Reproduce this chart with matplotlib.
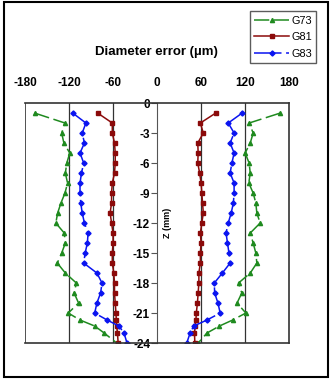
import matplotlib.pyplot as plt
from matplotlib.patches import Rectangle

plt.rcParams['font.family'] = ['Liberation Sans', 'DejaVu Sans']

# depth positions (mm)
z = [-1, -2, -3, -4, -5, -6, -7, -8, -9, -10, -11, -12, -13, -14, -15,
     -16, -17, -18, -19, -20, -21, -21.7, -22.3, -23, -24]

# diameter error (um), negative and positive side of each series
g73_neg = [-167, -125.5, -130, -127, -119, -123, -125, -122, -125.5, -131, -135.5,
           -138, -126.5, -125, -130, -136, -125, -110, -113, -107, -121, -105,
           -85, -72, -55]
g73_pos = [168, 125.5, 131, 127, 120, 125.5, 127, 125, 131, 134.6, 136, 140.5,
           127, 131, 134.6, 136, 127, 111, 115.5, 109, 121, 103, 85, 68, 56]
g81_neg = [-81, -61, -61, -58, -57, -57, -58, -61, -62, -62, -64, -62, -60, -60,
           -61, -61, -59, -58, -58, -57, -56, -55.5, -55, -54, -53]
g81_pos = [80, 59, 63, 55.5, 56, 55.5, 58, 60, 61, 62, 63, 61, 59, 60, 59, 59,
           57, 57, 56, 55, 53.5, 53, 52, 51, 51.5]
g83_neg = [-115, -97, -102, -99, -105, -100, -103, -105, -105, -104, -102, -99,
           -94, -95, -98, -100, -82, -75, -77, -82, -85, -68, -52, -45, -41]
g83_pos = [116, 97, 105, 99.6, 105, 102, 99.6, 105, 105, 104, 101, 97, 94, 96,
           98, 99.6, 89, 78, 78.5, 83, 86, 68, 50, 45, 40.5]

xticks = [-180, -120, -60, 0, 60, 120, 180]
yticks = [0, -3, -6, -9, -12, -15, -18, -21, -24]

green = '#1f8a1f'
red = '#8b0a0a'
blue = '#0a14f0'

fig = plt.figure(figsize=(3.31, 3.85), dpi=100)
ax = fig.add_axes([0.0755, 0.109, 0.798, 0.6234])

ax.plot(g73_neg, z, color=green, marker='^', ms=3, lw=1.1, ls=(0, (10, 3)), label='G73')
ax.plot(g73_pos, z, color=green, marker='^', ms=3, lw=1.1, ls=(0, (10, 3)))
ax.plot(g81_neg, z, color=red, marker='s', ms=3, lw=1.1, label='G81')
ax.plot(g81_pos, z, color=red, marker='s', ms=3, lw=1.1)
ax.plot(g83_neg, z, color=blue, marker='D', ms=2.6, lw=1.1, ls=(0, (18, 3)), label='G83')
ax.plot(g83_pos, z, color=blue, marker='D', ms=2.6, lw=1.1, ls=(0, (18, 3)))

for v in [-120, -60, 60, 120]:
    ax.axvline(v, color='#333333', lw=0.9, zorder=0)
ax.axvline(-180, color='#333333', lw=1.2)

ax.set_xlim(-180, 180)
ax.set_ylim(-24, 0)
ax.spines['left'].set_position(('data', 0))
ax.spines['left'].set_color('#555555')
for s in ['top', 'right', 'bottom']:
    ax.spines[s].set_color('#333333')
    ax.spines[s].set_linewidth(1.2)

ax.xaxis.tick_top()
ax.set_xticks(xticks)
ax.set_xticklabels([str(t) for t in xticks], fontweight='bold', fontsize=8.5)
ax.tick_params(axis='x', length=0, pad=10)
ax.set_yticks(yticks)
ax.set_yticklabels([str(t) for t in yticks], fontweight='bold', fontsize=8.5)
ax.tick_params(axis='y', direction='out', length=4, pad=1, color='#555555')

ax.text(14, -12, 'Z (mm)', rotation=90, ha='center', va='center',
        fontsize=6.5, fontweight='bold')
fig.text(0.474, 0.865, 'Diameter error (\u00b5m)', ha='center', va='center',
         fontsize=9.5, fontweight='bold')

fig.legend(loc='upper right', bbox_to_anchor=(0.972, 0.985), fontsize=7.8,
           frameon=True, fancybox=False, edgecolor='#333333', handlelength=3.2,
           borderpad=0.4, labelspacing=0.6, handletextpad=0.2)

fig.patches.append(Rectangle((0.012, 0.02), 0.979, 0.974, transform=fig.transFigure,
                             fill=False, edgecolor='black', lw=1.5))

fig.savefig('out.png', dpi=100)
